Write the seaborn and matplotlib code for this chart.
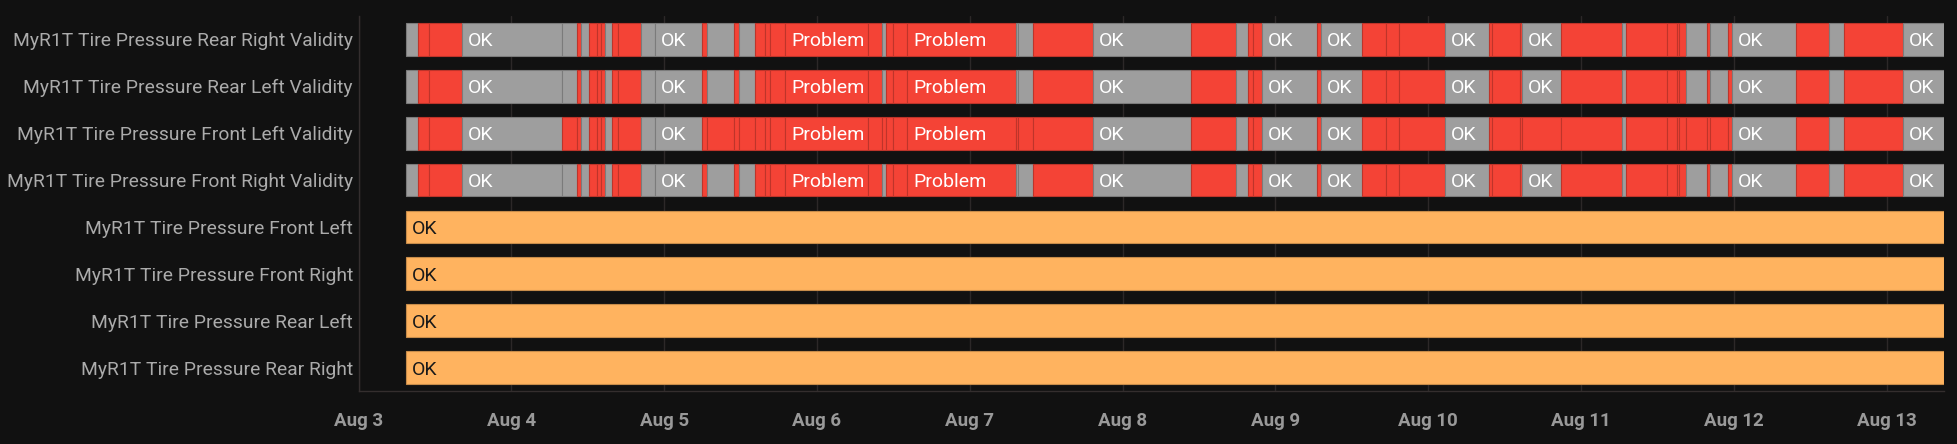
import matplotlib
matplotlib.use('Agg')
import matplotlib.pyplot as plt
import matplotlib.dates as mdates
import matplotlib.colors as mcolors
import pandas as pd
import seaborn as sns

ROW_LABELS = [
    'MyR1T Tire Pressure Rear Right Validity',
    'MyR1T Tire Pressure Rear Left Validity',
    'MyR1T Tire Pressure Front Left Validity',
    'MyR1T Tire Pressure Front Right Validity',
    'MyR1T Tire Pressure Front Left',
    'MyR1T Tire Pressure Front Right',
    'MyR1T Tire Pressure Rear Left',
    'MyR1T Tire Pressure Rear Right',
]

# state changes of the validity sensors (all four share the same timestamps)
CHANGE_TIMES = [
    '2024-08-03 07:28', '2024-08-03 09:21', '2024-08-03 11:04', '2024-08-03 16:15',
    '2024-08-04 07:58', '2024-08-04 10:19', '2024-08-04 10:57', '2024-08-04 12:12',
    '2024-08-04 13:28', '2024-08-04 14:05', '2024-08-04 14:43', '2024-08-04 15:49',
    '2024-08-04 16:45', '2024-08-04 20:22', '2024-08-04 22:34', '2024-08-05 05:57',
    '2024-08-05 06:44', '2024-08-05 10:59', '2024-08-05 11:46', '2024-08-05 14:17',
    '2024-08-05 15:51', '2024-08-05 16:38', '2024-08-05 18:59', '2024-08-06 08:02',
    '2024-08-06 10:14', '2024-08-06 10:51', '2024-08-06 11:57', '2024-08-06 14:09',
    '2024-08-07 07:16', '2024-08-07 07:35', '2024-08-07 09:56', '2024-08-07 19:22',
    '2024-08-08 10:46', '2024-08-08 17:50', '2024-08-08 19:43', '2024-08-08 20:30',
    '2024-08-08 21:55', '2024-08-09 06:33', '2024-08-09 07:11', '2024-08-09 13:37',
    '2024-08-09 17:23', '2024-08-09 19:26', '2024-08-10 02:39', '2024-08-10 09:34',
    '2024-08-10 10:02', '2024-08-10 14:26', '2024-08-10 14:45', '2024-08-10 20:53',
    '2024-08-11 06:27', '2024-08-11 07:05', '2024-08-11 13:31', '2024-08-11 15:05',
    '2024-08-11 15:25', '2024-08-11 16:31', '2024-08-11 19:48', '2024-08-11 20:17',
    '2024-08-11 23:07', '2024-08-11 23:44', '2024-08-12 09:47', '2024-08-12 14:58',
    '2024-08-12 17:20', '2024-08-13 02:35',
]
END_TIME = '2024-08-13 09:02'
AXIS_START = '2024-08-03 00:00'

# Rear Right / Rear Left / Front Right validity
STATES_MAIN = [
    'OK', 'Problem', 'Problem', 'OK',
    'OK', 'Problem', 'OK', 'Problem',
    'Problem', 'Problem', 'OK', 'Problem',
    'Problem', 'OK', 'OK', 'Problem',
    'OK', 'Problem', 'OK', 'Problem',
    'Problem', 'Problem', 'Problem', 'Problem',
    'OK', 'Problem', 'Problem', 'Problem',
    'OK', 'OK', 'Problem', 'OK',
    'Problem', 'OK', 'Problem', 'Problem',
    'OK', 'Problem', 'OK', 'Problem',
    'Problem', 'Problem', 'OK', 'Problem',
    'Problem', 'Problem', 'OK', 'Problem',
    'OK', 'Problem', 'Problem', 'Problem',
    'Problem', 'OK', 'Problem', 'OK',
    'Problem', 'OK', 'Problem', 'OK',
    'Problem', 'OK',
]
# Front Left validity
STATES_FRONT_LEFT = [
    'OK', 'Problem', 'Problem', 'OK',
    'Problem', 'Problem', 'OK', 'Problem',
    'Problem', 'Problem', 'OK', 'Problem',
    'Problem', 'OK', 'OK', 'Problem',
    'Problem', 'Problem', 'Problem', 'Problem',
    'Problem', 'Problem', 'Problem', 'Problem',
    'Problem', 'Problem', 'Problem', 'Problem',
    'Problem', 'Problem', 'Problem', 'OK',
    'Problem', 'OK', 'Problem', 'Problem',
    'OK', 'Problem', 'OK', 'Problem',
    'Problem', 'Problem', 'OK', 'Problem',
    'Problem', 'Problem', 'Problem', 'Problem',
    'OK', 'Problem', 'Problem', 'Problem',
    'Problem', 'Problem', 'Problem', 'Problem',
    'Problem', 'OK', 'Problem', 'OK',
    'Problem', 'OK',
]
# the four pressure sensors report OK the whole time
PRESSURE_START = '2024-08-03 07:28'
PRESSURE_STATE = 'OK'

VALIDITY_COLORS = {'OK': '#9E9E9E', 'Problem': '#F44336'}
PRESSURE_COLOR = '#FFB35F'
BG = '#111111'


def darker(c, f=0.78):
    r, g, b = mcolors.to_rgb(c)
    return (r * f, g * f, b * f)


segments = []
row_states = {0: STATES_MAIN, 1: STATES_MAIN, 2: STATES_FRONT_LEFT, 3: STATES_MAIN}
starts = pd.to_datetime(CHANGE_TIMES)
ends = list(starts[1:]) + [pd.Timestamp(END_TIME)]
for r, states in row_states.items():
    for s, e, st in zip(starts, ends, states):
        segments.append((r, s, e, st, VALIDITY_COLORS[st], 'white'))
for r in range(4, 8):
    segments.append((r, pd.Timestamp(PRESSURE_START), pd.Timestamp(END_TIME),
                     PRESSURE_STATE, PRESSURE_COLOR, '#1a1a1a'))
df = pd.DataFrame(segments, columns=['row', 'start', 'end', 'state', 'color', 'tcolor'])

sns.set_theme(style='dark', rc={'axes.facecolor': BG, 'figure.facecolor': BG})
plt.rcParams['font.family'] = ['Roboto', 'DejaVu Sans']

fig = plt.figure(figsize=(19.58, 4.44), dpi=100)
ax = fig.add_axes([0.1831, 0.1194, 0.8098, 0.8446])
ax.set_facecolor(BG)

texts = []
for _, seg in df.iterrows():
    x0 = mdates.date2num(seg['start'])
    x1 = mdates.date2num(seg['end'])
    ax.barh(seg['row'], x1 - x0, left=x0, height=0.7, color=seg['color'],
            edgecolor=darker(seg['color']), linewidth=0.8, zorder=3)
    t = ax.annotate(seg['state'], xy=(x0, seg['row']), xytext=(4.5, 0),
                    textcoords='offset points', ha='left', va='center_baseline',
                    fontsize=14, color=seg['tcolor'], zorder=4)
    texts.append((t, x1))

ax.set_xlim(mdates.date2num(pd.Timestamp(AXIS_START)), mdates.date2num(pd.Timestamp(END_TIME)))
ax.set_ylim(7.5, -0.5)
ax.set_yticks(range(len(ROW_LABELS)))
ax.set_yticklabels(ROW_LABELS)
ax.xaxis.set_major_locator(mdates.DayLocator())
ax.xaxis.set_major_formatter(mdates.DateFormatter('%b %-d'))

ax.grid(axis='x', color='#2c2828', linewidth=1.0, zorder=0)
ax.grid(axis='y', visible=False)
for side in ['top', 'right']:
    ax.spines[side].set_visible(False)
for side in ['left', 'bottom']:
    ax.spines[side].set_visible(True)
    ax.spines[side].set_color('#342e2e')
    ax.spines[side].set_linewidth(1.0)
ax.tick_params(axis='y', length=0, pad=4, labelsize=13.9, labelcolor='#ababab')
ax.tick_params(axis='x', length=9, width=1, color='#2c2828', pad=6,
               labelsize=13.5, labelcolor='#999999')
for lbl in ax.get_xticklabels():
    lbl.set_fontweight('bold')

# hide labels that do not fit inside their segment
fig.canvas.draw()
renderer = fig.canvas.get_renderer()
for t, x1 in texts:
    bb = t.get_window_extent(renderer)
    right_px = ax.transData.transform((x1, 0))[0]
    if bb.x1 - 2 > right_px:
        t.remove()

fig.savefig('out.png', dpi=100, facecolor=BG)
